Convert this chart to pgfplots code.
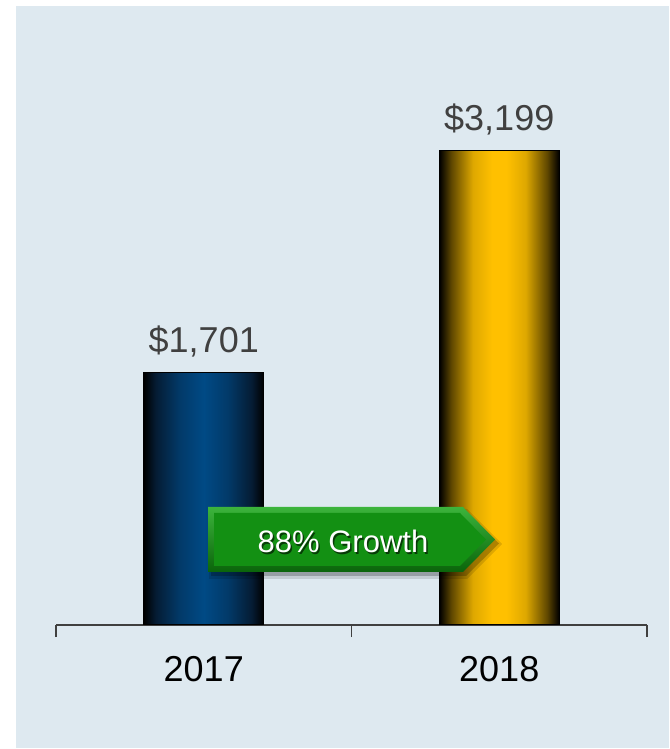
\documentclass[border=0pt]{standalone}
\usepackage{pgfplots}
\pgfplotsset{compat=1.18}
\usepackage{fontspec}
\setmainfont{Liberation Sans}
\definecolor{bgpanel}{RGB}{222,233,240}
\definecolor{lblgray}{RGB}{64,64,64}
\definecolor{bA}{RGB}{5,28,52}
\definecolor{bB}{RGB}{2,58,105}
\definecolor{bC}{RGB}{0,74,133}
\definecolor{gA}{RGB}{95,71,0}
\definecolor{gB}{RGB}{222,168,0}
\definecolor{gC}{RGB}{255,192,0}
\definecolor{grTop}{RGB}{60,180,60}
\definecolor{grBot}{RGB}{10,100,10}
\definecolor{grFace}{RGB}{19,144,19}
\pgfdeclarehorizontalshading{bluebar}{100bp}{color(0bp)=(black); color(25bp)=(black); color(30bp)=(bA); color(40bp)=(bB); color(50bp)=(bC); color(60bp)=(bB); color(70bp)=(bA); color(75bp)=(black); color(100bp)=(black)}
\pgfdeclarehorizontalshading{goldbar}{100bp}{color(0bp)=(black); color(25bp)=(black); color(30bp)=(gA); color(39bp)=(gB); color(47bp)=(gC); color(53bp)=(gC); color(61bp)=(gB); color(70bp)=(gA); color(75bp)=(black); color(100bp)=(black)}
\begin{document}
\begin{tikzpicture}[x=1pt,y=1pt]
\useasboundingbox (0,0) rectangle (669,749);
\fill[white] (0,0) rectangle (669,749);
\fill[bgpanel] (16,1) rectangle (669,743);
\begin{axis}[
  at={(56pt,124pt)}, anchor=south west,
  scale only axis, width=591pt, height=593pt,
  xmin=-0.5, xmax=1.5, ymin=0, ymax=4000,
  axis x line*=bottom, axis y line=none,
  x axis line style={draw=lblgray, line width=1.3pt, -},
  xtick={0,1}, xticklabels={2017,2018},
  major tick length=0pt,
  minor xtick={-0.5,0.5,1.5},
  minor tick length=12pt,
  xtick align=outside,
  minor tick style={draw=lblgray, line width=1.3pt},
  xticklabel style={font=\fontsize{36}{40}\selectfont, text=black, anchor=base, yshift=-57pt, inner sep=0pt},
  ybar, bar width=0.405, bar shift=0pt,
  nodes near coords, point meta=explicit symbolic,
  every node near coord/.append style={font=\fontsize{36}{40}\selectfont, text=lblgray, anchor=base, inner sep=0pt, text depth=0pt, yshift=20pt},
  clip=false,
]
\addplot[shading=bluebar, draw=black, line width=1pt] coordinates {(0,1701) [\$1,701]};
\addplot[shading=goldbar, draw=black, line width=1pt] coordinates {(1,3199) [\$3,199]};
\end{axis}
% growth arrow annotation
\fill[black, opacity=0.22] (211,173) -- (466,173) -- (499,205.5) -- (466,238) -- (211,238) -- cycle;
\fill[black, opacity=0.12] (209,170) -- (467,170) -- (502,205) -- (467,240) -- (209,240) -- cycle;
\shade[top color=grTop, bottom color=grBot] (208,177) -- (463,177) -- (495,209.5) -- (463,242) -- (208,242) -- cycle;
\fill[grFace] (214,183) -- (460,183) -- (486,209.5) -- (460,236) -- (214,236) -- cycle;
\node[anchor=base, text=black!60!grFace, inner sep=0pt, font=\fontsize{31}{35}\selectfont] at (344.5,194.5) {88\% Growth};
\node[anchor=base, text=white, inner sep=0pt, font=\fontsize{31}{35}\selectfont] at (343,196) {88\% Growth};
\end{tikzpicture}
\end{document}
